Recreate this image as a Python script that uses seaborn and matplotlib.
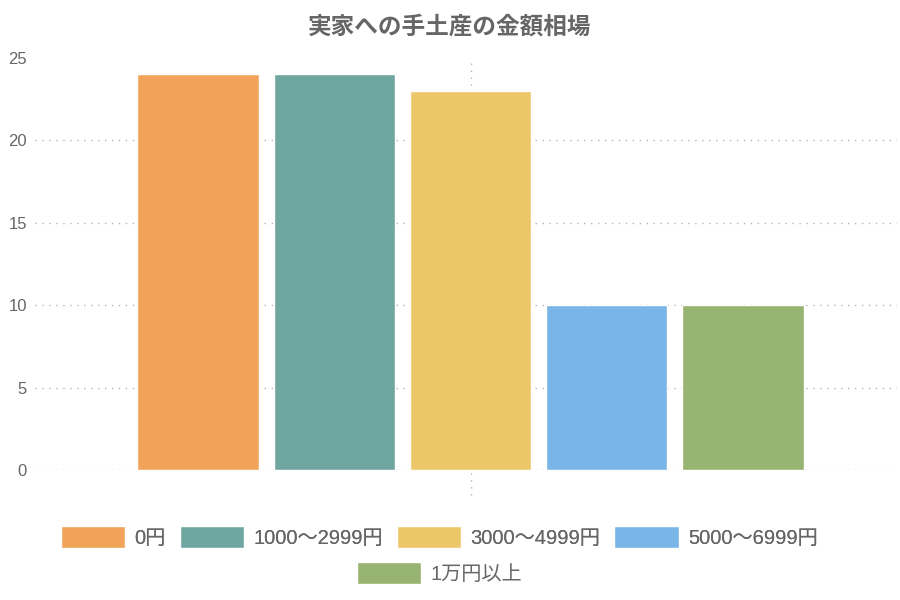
import matplotlib
matplotlib.use("Agg")
import matplotlib.pyplot as plt
import matplotlib.patches as mpatches
import seaborn as sns
import pandas as pd

# data
labels = ['0円', '1000～2999円', '3000～4999円', '5000～6999円', '1万円以上']
values = [24, 24, 23, 10, 10]
colors = ['#F1A35A', '#70A6A0', '#ECC76A', '#79B6E7', '#97B472']
title = '実家への手土産の金額相場'

sns.set_theme(style='white')
plt.rcParams['font.family'] = ['Liberation Sans', 'Noto Sans CJK JP', 'DejaVu Sans']
txt = '#666666'

df = pd.DataFrame({'cat': [''] * len(labels), 'label': labels, 'value': values})

fig = plt.figure(figsize=(9, 6), dpi=100)
ax = fig.add_axes([0.039, 0.2167, 0.958, 0.6867])
sns.barplot(data=df, x='cat', y='value', hue='label', hue_order=labels,
            palette=colors, width=0.79, gap=0.11, saturation=1,
            legend=False, ax=ax)

ax.set_ylim(0, 25)
ax.set_xlim(-0.505, 0.495)
ax.set_yticks([0, 5, 10, 15, 20, 25])
for y in [0, 5, 10, 15, 20]:
    ax.axhline(y, color='#b5b5b5', lw=1, ls=(0, (1, 4)), zorder=0)
ax.axvline(0, ymin=-0.06, ymax=1, color='#b5b5b5', lw=1, ls=(0, (1, 4)),
           zorder=0, clip_on=False)
for s in ax.spines.values():
    s.set_visible(False)
ax.set_xlabel('')
ax.set_ylabel('')
ax.set_xticks([])
ax.tick_params(axis='y', length=0, pad=6, labelsize=12, labelcolor=txt)

fig.text(0.5, 0.955, title, ha='center', va='center', fontsize=17,
         fontweight='bold', color=txt)

handles = [mpatches.Patch(facecolor=c, edgecolor='white', label=l)
           for c, l in zip(colors, labels)]
kw = dict(frameon=False, fontsize=14.5, labelcolor=txt, handlelength=3.2,
          handleheight=1.3, handletextpad=0.45, columnspacing=0.7, loc='center')
leg1 = fig.legend(handles=handles[:4], ncol=4, bbox_to_anchor=(0.488, 0.105), **kw)
fig.add_artist(leg1)
fig.legend(handles=handles[4:], ncol=1, bbox_to_anchor=(0.488, 0.045), **kw)

fig.savefig('out.png', dpi=100)
